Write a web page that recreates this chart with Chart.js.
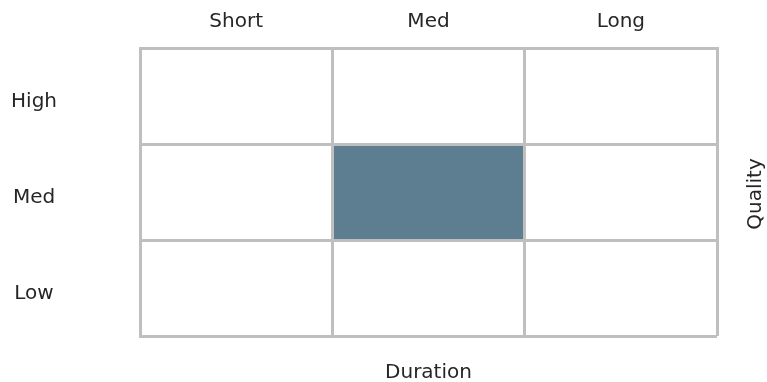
<!DOCTYPE html>
<html>
<head>
<meta charset="utf-8">
<script src="https://cdn.jsdelivr.net/npm/chart.js@4.4.1/dist/chart.umd.min.js"></script>
<style>
    body { margin: 0; background: #fff; }
    #matrix { display: block; }
</style>
</head>
<body>
<canvas id="matrix" width="767" height="382"></canvas>
<script>
const durations = ['Short', 'Med', 'Long'];
const qualities = ['High', 'Med', 'Low'];
const highlighted = [{ duration: 'Med', quality: 'Med' }];

const gridColor = '#bfbfbf';
const fillColor = '#5d7e91';
const textColor = '#262626';

// draws the rotated "Quality" caption in the right-hand axis box
const qualityTitle = {
    id: 'qualityTitle',
    afterDraw(chart) {
        const q = chart.scales.q;
        const area = chart.chartArea;
        const ctx = chart.ctx;
        ctx.save();
        ctx.translate(q.left + 39, (area.top + area.bottom) / 2 + 2);
        ctx.rotate(-Math.PI / 2);
        ctx.font = '20px "DejaVu Sans"';
        ctx.fillStyle = textColor;
        ctx.textAlign = 'center';
        ctx.textBaseline = 'middle';
        ctx.fillText('Quality', 0, 0);
        ctx.restore();
    }
};

// fixed box sizes, and no extra room reserved for tick labels
function fixBox(w, h) {
    return function (s) {
        if (w !== null) s.width = w;
        if (h !== null) s.height = h;
        s.paddingTop = 0;
        s.paddingBottom = 0;
        s.paddingLeft = 0;
        s.paddingRight = 0;
    };
}

document.addEventListener('DOMContentLoaded', function () {
    Chart.defaults.font.family = '"DejaVu Sans", sans-serif';
    Chart.defaults.font.size = 20;
    Chart.defaults.color = textColor;

    const ctx = document.getElementById('matrix');
    new Chart(ctx, {
        type: 'bar',
        data: {
            labels: durations,
            datasets: [{
                data: highlighted.map(c => ({
                    x: c.duration,
                    y: [qualities.indexOf(c.quality), qualities.indexOf(c.quality) + 1]
                })),
                backgroundColor: fillColor,
                borderWidth: 0,
                barPercentage: 1,
                categoryPercentage: 1,
                xAxisID: 'x',
                yAxisID: 'yv'
            }]
        },
        options: {
            responsive: false,
            animation: false,
            layout: { padding: 0 },
            plugins: {
                legend: { display: false },
                tooltip: { enabled: false }
            },
            scales: {
                x: {
                    type: 'category',
                    labels: durations,
                    position: 'top',
                    offset: true,
                    grid: { offset: true, color: gridColor, lineWidth: 3, drawTicks: false, z: 1 },
                    border: { color: gridColor, width: 3, z: 1 },
                    ticks: { padding: 14 },
                    afterFit: fixBox(null, 48)
                },
                xb: {
                    type: 'category',
                    labels: durations,
                    position: 'bottom',
                    grid: { display: false },
                    border: { display: false },
                    ticks: { display: false },
                    title: { display: true, text: 'Duration', padding: { top: 0, bottom: -3 } },
                    afterFit: fixBox(null, 46)
                },
                y: {
                    type: 'category',
                    labels: qualities,
                    position: 'left',
                    offset: true,
                    grid: { offset: true, color: gridColor, lineWidth: 3, drawTicks: false, z: 1 },
                    border: { color: gridColor, width: 3, z: 1 },
                    ticks: { crossAlign: 'center', padding: 83, labelOffset: 6 },
                    afterFit: fixBox(140, null)
                },
                q: {
                    type: 'category',
                    labels: qualities,
                    position: 'right',
                    grid: { display: false },
                    border: { display: false },
                    ticks: { display: false },
                    afterFit: fixBox(50, null)
                },
                yv: {
                    type: 'linear',
                    display: false,
                    reverse: true,
                    min: 0,
                    max: 3
                }
            }
        },
        plugins: [qualityTitle]
    });
});
</script>
</body>
</html>
